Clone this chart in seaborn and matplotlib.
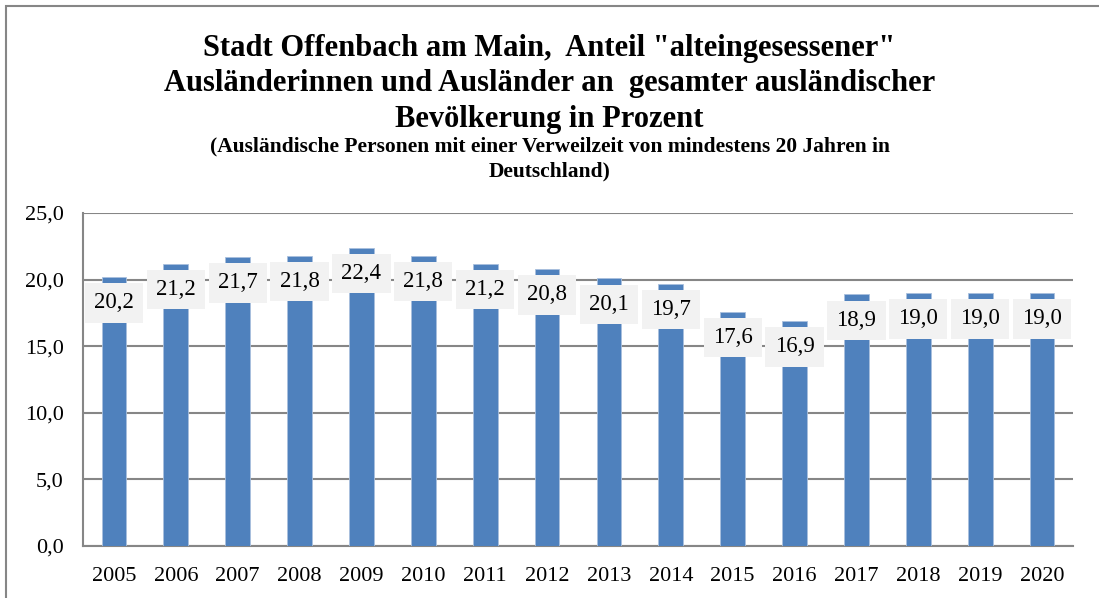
import matplotlib
matplotlib.use("Agg")
import matplotlib.pyplot as plt
import seaborn as sns
import pandas as pd
from matplotlib.patches import Rectangle

years = ["2005", "2006", "2007", "2008", "2009", "2010", "2011", "2012",
         "2013", "2014", "2015", "2016", "2017", "2018", "2019", "2020"]
values = [20.2, 21.2, 21.7, 21.8, 22.4, 21.8, 21.2, 20.8,
          20.1, 19.7, 17.6, 16.9, 18.9, 19.0, 19.0, 19.0]
yticks = [0, 5, 10, 15, 20, 25]

title = ('Stadt Offenbach am Main,  Anteil "alteingesessener"\n'
         'Ausländerinnen und Ausländer an  gesamter ausländischer\n'
         'Bevölkerung in Prozent')
subtitle = ('(Ausländische Personen mit einer Verweilzeit von mindestens 20 Jahren in\n'
            'Deutschland)')

sns.set_style("white")
plt.rcParams['font.family'] = ['Liberation Serif', 'DejaVu Serif']
plt.rcParams['text.color'] = 'black'
plt.rcParams['xtick.color'] = 'black'
plt.rcParams['ytick.color'] = 'black'

df = pd.DataFrame({"year": years, "value": values})

fig = plt.figure(figsize=(10.99, 5.98), dpi=100)
ax = fig.add_axes([83/1099, 1 - 546/598, (1073-83)/1099, (546-213)/598])

sns.barplot(data=df, x="year", y="value", color="#4F81BD", width=0.4,
            saturation=1, ax=ax, zorder=3, edgecolor="#A9C0DE", linewidth=0.6)

ax.set_ylim(0, 25)
ax.set_xlim(-0.5, len(years) - 0.5)
ax.set_yticks(yticks)
ax.set_yticklabels([f"{v:.1f}".replace(".", ",") for v in yticks], fontsize=16)
ax.set_xticks(range(len(years)))
ax.set_xticklabels(years, fontsize=16)
ax.set_xlabel("")
ax.set_ylabel("")
ax.grid(axis="y", color="#868686", linewidth=1.5, zorder=0)
ax.set_axisbelow(True)
for s in ["top", "right"]:
    ax.spines[s].set_visible(False)
for s in ["left", "bottom"]:
    ax.spines[s].set_color("#868686")
    ax.spines[s].set_linewidth(1.5)
ax.tick_params(axis="y", which="major", length=7, width=1.5, color="#868686",
               labelcolor="black", pad=7)
ax.tick_params(axis="x", which="major", length=0, pad=15, labelcolor="black")
ax.set_xticks([i - 0.5 for i in range(len(years) + 1)], minor=True)
ax.tick_params(axis="x", which="minor", length=7, width=1.5, color="#868686", direction="out")

for i, v in enumerate(values):
    ax.text(i, v - 1.95, f"{v:.1f}".replace(".", ","), ha="center", va="center",
            fontsize=16.5, zorder=5, color="black",
            bbox=dict(boxstyle="square,pad=0.4", facecolor="#F2F2F2", edgecolor="none"))

fig.text(0.5, 1 - 84/598, title, ha="center", va="center", fontsize=22,
         fontweight="bold", linespacing=1.3, color="black")
fig.text(0.5, 1 - 159/598, subtitle, ha="center", va="center", fontsize=15.5,
         fontweight="bold", linespacing=1.3, color="black")

fig.patches.append(Rectangle((6/1099, -0.1), 1.2, 1 - 6/598 + 0.1, transform=fig.transFigure,
                             fill=False, edgecolor="#868686", linewidth=1.5))

fig.savefig("out.png", dpi=100)
